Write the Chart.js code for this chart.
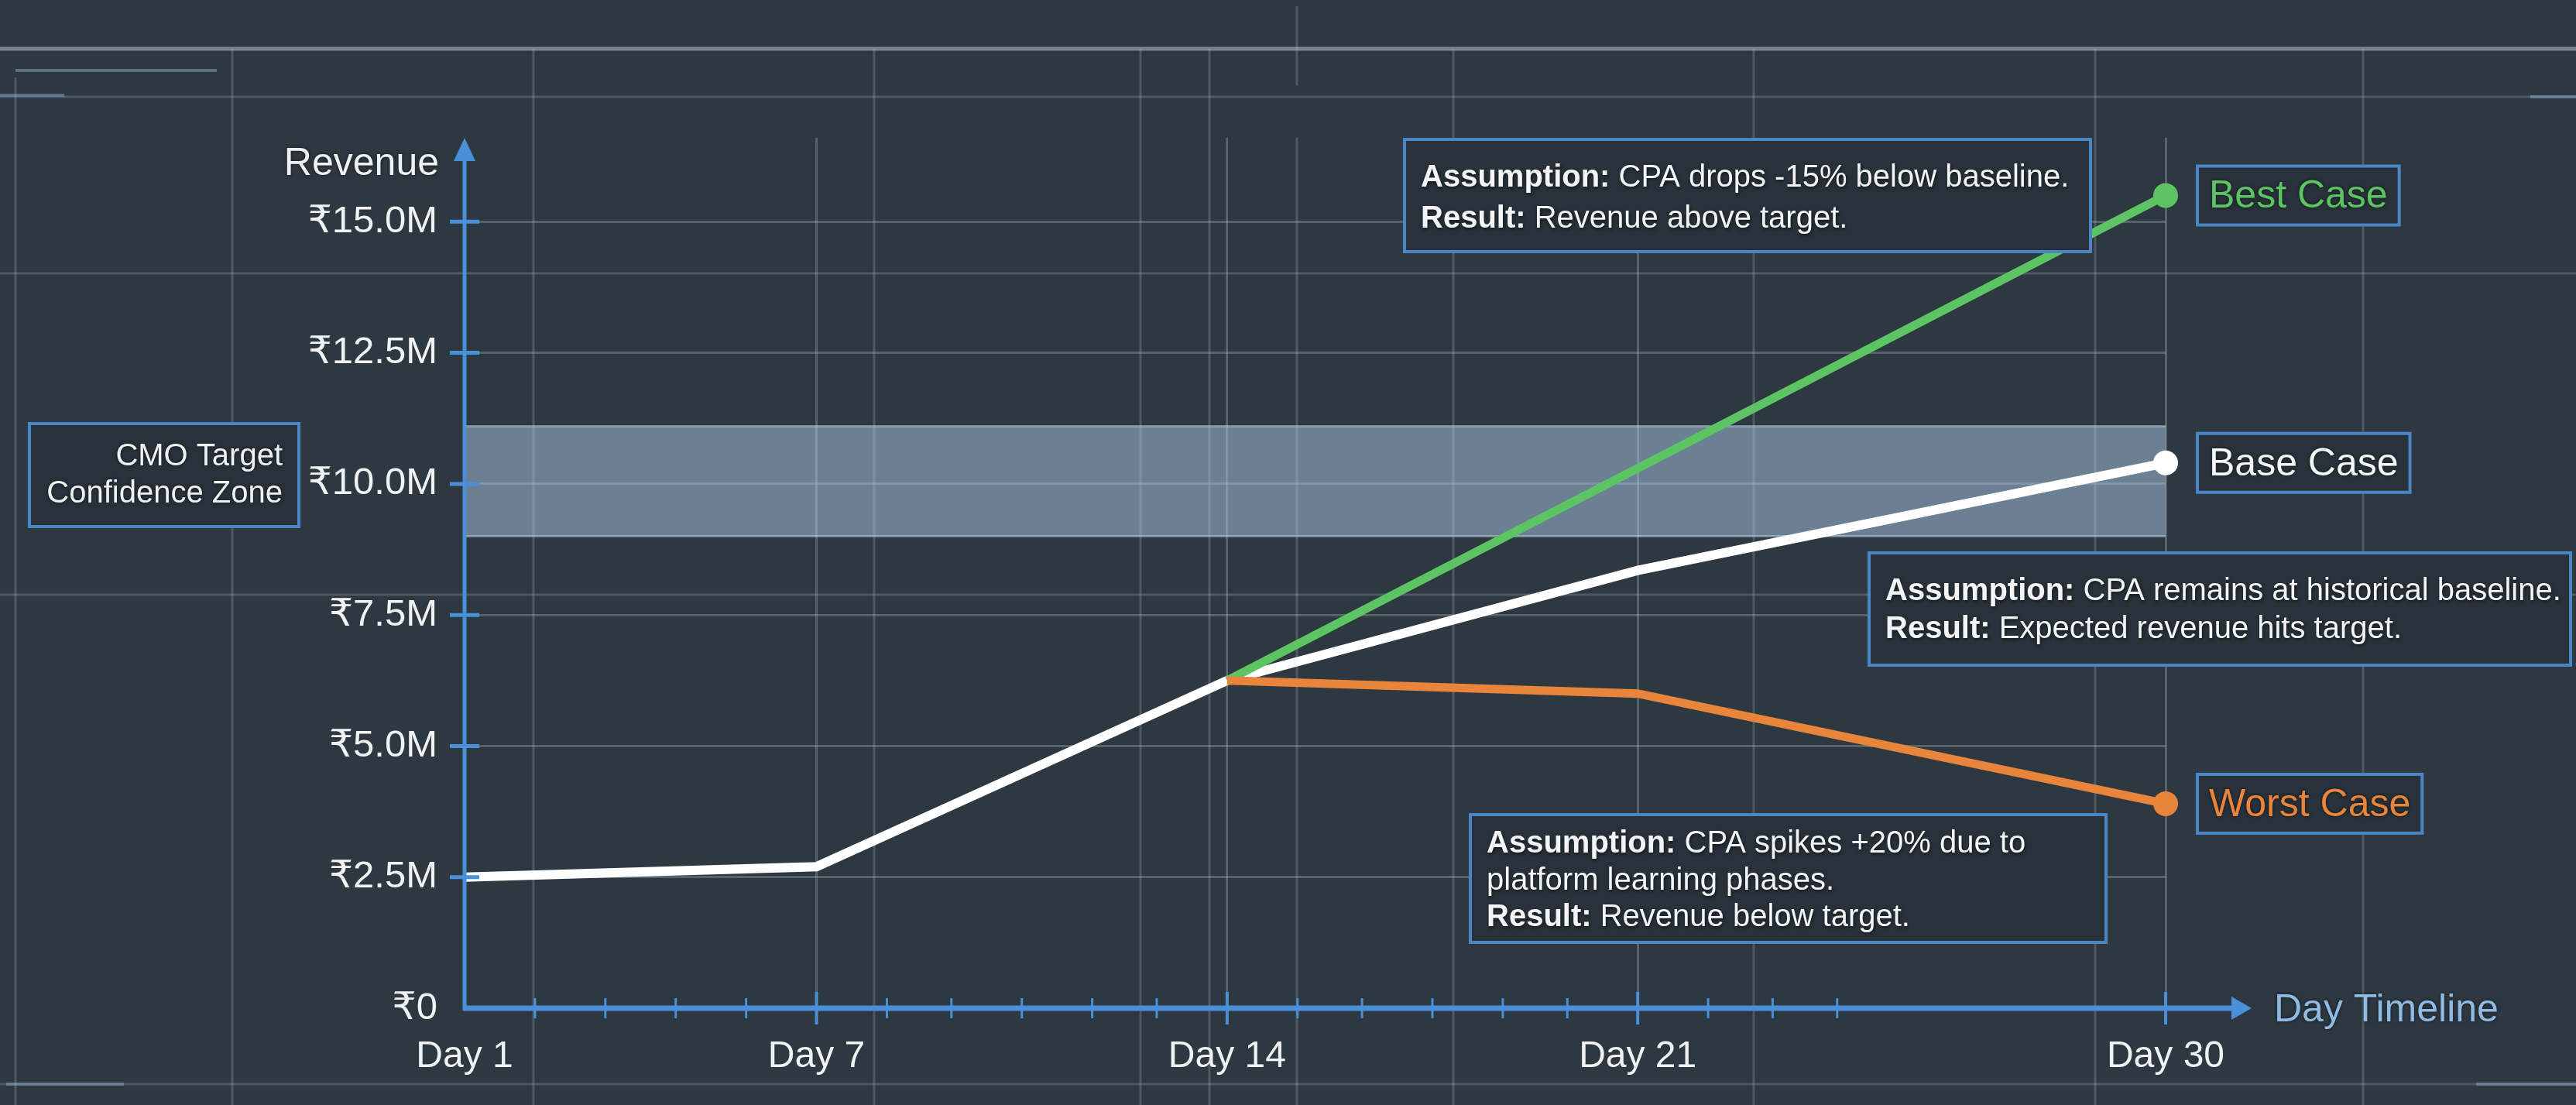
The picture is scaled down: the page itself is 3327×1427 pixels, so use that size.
<!DOCTYPE html>
<html>
<head>
<meta charset="utf-8">
<script src="https://cdn.jsdelivr.net/npm/chart.js@4.4.1/dist/chart.umd.min.js"></script>
<style>
  html, body { margin: 0; padding: 0; background: #2e3840; }
  #wrap { width: 3327px; height: 1427px; }
</style>
</head>
<body>
<div id="wrap"><canvas id="scenarioChart" width="3327" height="1427"></canvas></div>
<script>
// x axis: day timeline
const dayLabels = ['Day 1', 'Day 7', 'Day 14', 'Day 21', 'Day 30'];
const majorDays = [1, 7, 14, 21, 30];
const minorTickDays = [2.2, 3.4, 4.6, 5.8, 8.2, 9.3, 10.5, 11.7, 12.8, 15.2, 16.3, 17.5, 18.7, 19.8, 22.2, 23.3, 24.4];

// y axis: revenue in ₹M
const revenueTicks = [0, 2.5, 5, 7.5, 10, 12.5, 15];

// scenarios
const baseDays = [1, 7, 14, 21, 30];
const baseRevenue = [2.5, 2.7, 6.25, 8.35, 10.4];
const bestDays = [14, 30];
const bestRevenue = [6.25, 15.5];
const worstDays = [14, 21, 30];
const worstRevenue = [6.25, 6.0, 3.9];

// CMO target confidence zone (₹M)
const targetZoneLow = 9.0;
const targetZoneHigh = 11.1;

const FONT = "'Liberation Sans', Arial, 'DejaVu Sans', sans-serif";
const axisBlue = '#4a90d9';
const boxBlue = '#4a86c5';
const boxFill = '#29323a';
const gridColor = 'rgba(175,188,200,0.32)';
const green = '#5cc462';
const orange = '#e8843c';

Chart.defaults.font.family = FONT;

function toPoints(days, values) {
  return days.map((d, i) => ({ x: d, y: values[i] }));
}

function lastPointRadius(ctx) {
  return ctx.dataIndex === ctx.dataset.data.length - 1 ? 16 : 0;
}

// blueprint style background
const backdrop = {
  id: 'backdrop',
  beforeDraw(chart) {
    const ctx = chart.ctx;
    ctx.save();
    ctx.fillStyle = '#2e3840';
    ctx.fillRect(0, 0, chart.width, chart.height);

    const W = chart.width;
    const H = chart.height;
    const faint = [
      [0, 125, W, 125], [0, 353, W, 353], [0, 768, W, 768], [0, 1400, W, 1400],
      [20, 100, 20, H], [300, 63, 300, H], [689, 63, 689, H], [1129, 63, 1129, H],
      [1473, 63, 1473, H], [1562, 63, 1562, H], [1675, 8, 1675, 110], [1675, 178, 1675, H],
      [1877, 63, 1877, H], [2265, 63, 2265, H], [2706, 63, 2706, H], [3052, 63, 3052, H]
    ];
    ctx.strokeStyle = 'rgba(170,185,200,0.26)';
    ctx.lineWidth = 3;
    faint.forEach(([x1, y1, x2, y2]) => {
      ctx.beginPath(); ctx.moveTo(x1, y1); ctx.lineTo(x2, y2); ctx.stroke();
    });

    ctx.strokeStyle = 'rgba(195,205,215,0.5)';
    ctx.lineWidth = 5;
    ctx.beginPath(); ctx.moveTo(0, 63); ctx.lineTo(W, 63); ctx.stroke();

    // little highlight strokes
    ctx.strokeStyle = 'rgba(140,180,220,0.45)';
    ctx.lineWidth = 4;
    [[20, 91, 280, 91], [0, 123, 83, 123], [3268, 125, W, 125], [3198, 1400, W, 1400], [8, 1400, 160, 1400]]
      .forEach(([x1, y1, x2, y2]) => {
        ctx.beginPath(); ctx.moveTo(x1, y1); ctx.lineTo(x2, y2); ctx.stroke();
      });
    ctx.restore();
  }
};

// translucent target band
const targetZone = {
  id: 'targetZone',
  beforeDatasetsDraw(chart) {
    const { ctx, scales: { x, y } } = chart;
    const left = x.getPixelForValue(majorDays[0]);
    const right = x.getPixelForValue(majorDays[majorDays.length - 1]);
    const top = y.getPixelForValue(targetZoneHigh);
    const bottom = y.getPixelForValue(targetZoneLow);
    ctx.save();
    ctx.fillStyle = 'rgba(170,200,230,0.5)';
    ctx.fillRect(left, top, right - left, bottom - top);
    ctx.strokeStyle = 'rgba(200,220,240,0.45)';
    ctx.lineWidth = 3;
    ctx.beginPath();
    ctx.moveTo(left, top); ctx.lineTo(right, top);
    ctx.moveTo(left, bottom); ctx.lineTo(right, bottom);
    ctx.stroke();
    ctx.restore();
  }
};

// axes with arrows and crossing tick marks
const arrowAxes = {
  id: 'arrowAxes',
  afterDatasetsDraw(chart) {
    const { ctx, chartArea: a, scales: { x, y } } = chart;
    ctx.save();
    ctx.strokeStyle = axisBlue;
    ctx.fillStyle = axisBlue;
    ctx.lineCap = 'butt';

    ctx.lineWidth = 5;
    ctx.beginPath(); ctx.moveTo(a.left, a.bottom + 3); ctx.lineTo(a.left, a.top + 26); ctx.stroke();
    ctx.beginPath();
    ctx.moveTo(a.left, a.top);
    ctx.lineTo(a.left - 14, a.top + 30);
    ctx.lineTo(a.left + 14, a.top + 30);
    ctx.closePath(); ctx.fill();

    const xEnd = a.right + 85;
    ctx.lineWidth = 7;
    ctx.beginPath(); ctx.moveTo(a.left - 2, a.bottom); ctx.lineTo(xEnd + 2, a.bottom); ctx.stroke();
    ctx.beginPath();
    ctx.moveTo(xEnd + 26, a.bottom);
    ctx.lineTo(xEnd, a.bottom - 15);
    ctx.lineTo(xEnd, a.bottom + 15);
    ctx.closePath(); ctx.fill();

    ctx.lineWidth = 5;
    revenueTicks.forEach(v => {
      if (v === 0) return;
      const py = y.getPixelForValue(v);
      ctx.beginPath(); ctx.moveTo(a.left - 19, py); ctx.lineTo(a.left + 19, py); ctx.stroke();
    });

    ctx.lineWidth = 4;
    majorDays.slice(1).forEach(d => {
      const px = x.getPixelForValue(d);
      ctx.beginPath(); ctx.moveTo(px, a.bottom - 21); ctx.lineTo(px, a.bottom + 21); ctx.stroke();
    });
    ctx.lineWidth = 3;
    minorTickDays.forEach(d => {
      const px = x.getPixelForValue(d);
      ctx.beginPath(); ctx.moveTo(px, a.bottom - 13); ctx.lineTo(px, a.bottom + 13); ctx.stroke();
    });
    ctx.restore();
  }
};

function drawBox(ctx, left, top, w, h) {
  ctx.fillStyle = boxFill;
  ctx.fillRect(left, top, w, h);
  ctx.strokeStyle = boxBlue;
  ctx.lineWidth = 4;
  ctx.strokeRect(left, top, w, h);
}

function richLine(ctx, parts, x, y) {
  let cx = x;
  parts.forEach(([text, bold]) => {
    ctx.font = (bold ? 'bold ' : '') + '40px ' + FONT;
    ctx.fillText(text, cx, y);
    cx += ctx.measureText(text).width;
  });
}

const notes = [
  { left: 1814, top: 180, w: 886, h: 145, rows: [
    { y: 230, parts: [['Assumption:', true], [' CPA drops -15% below baseline.', false]] },
    { y: 283, parts: [['Result:', true], [' Revenue above target.', false]] }
  ] },
  { left: 2414, top: 714, w: 906, h: 145, rows: [
    { y: 764, parts: [['Assumption:', true], [' CPA remains at historical baseline.', false]] },
    { y: 813, parts: [['Result:', true], [' Expected revenue hits target.', false]] }
  ] },
  { left: 1899, top: 1052, w: 821, h: 165, rows: [
    { y: 1090, parts: [['Assumption:', true], [' CPA spikes +20% due to', false]] },
    { y: 1138, parts: [['platform learning phases.', false]] },
    { y: 1185, parts: [['Result:', true], [' Revenue below target.', false]] }
  ] }
];

const annotations = {
  id: 'annotations',
  afterDraw(chart) {
    const { ctx, chartArea: a, scales: { x, y } } = chart;
    ctx.save();
    ctx.textBaseline = 'middle';
    ctx.shadowColor = 'rgba(0,0,0,0.55)';

    // scenario notes
    notes.forEach(n => {
      ctx.shadowBlur = 0;
      drawBox(ctx, n.left, n.top, n.w, n.h);
      ctx.shadowBlur = 4; ctx.shadowOffsetX = 1; ctx.shadowOffsetY = 2;
      ctx.fillStyle = '#f2f4f6';
      ctx.textAlign = 'left';
      n.rows.forEach(r => richLine(ctx, r.parts, n.left + 21, r.y));
      ctx.shadowOffsetX = 0; ctx.shadowOffsetY = 0;
    });

    // end labels
    const ends = [
      ['Best Case', green, bestDays, bestRevenue],
      ['Base Case', '#f4f6f8', baseDays, baseRevenue],
      ['Worst Case', orange, worstDays, worstRevenue]
    ];
    ctx.font = '50px ' + FONT;
    ends.forEach(([label, color, days, vals]) => {
      const px = x.getPixelForValue(days[days.length - 1]);
      const py = y.getPixelForValue(vals[vals.length - 1]);
      const w = ctx.measureText(label).width + 30;
      ctx.shadowBlur = 0;
      drawBox(ctx, px + 41, py - 38, w, 76);
      ctx.shadowBlur = 4;
      ctx.fillStyle = color;
      ctx.textAlign = 'left';
      ctx.fillText(label, px + 56, py + 2);
    });

    // target zone label
    ctx.shadowBlur = 0;
    drawBox(ctx, 38, 547, 348, 133);
    ctx.shadowBlur = 4;
    ctx.fillStyle = '#eef0f2';
    ctx.font = '40px ' + FONT;
    ctx.textAlign = 'right';
    ctx.fillText('CMO Target', 365, 590);
    ctx.fillText('Confidence Zone', 365, 638);

    // axis titles
    ctx.font = '50px ' + FONT;
    ctx.fillStyle = '#eef0f2';
    ctx.textAlign = 'right';
    ctx.fillText('Revenue', a.left - 33, a.top + 34);
    ctx.fillStyle = '#8fbbe3';
    ctx.textAlign = 'left';
    ctx.fillText('Day Timeline', a.right + 140, a.bottom + 3);
    ctx.restore();
  }
};

new Chart(document.getElementById('scenarioChart').getContext('2d'), {
  type: 'line',
  data: {
    datasets: [
      {
        label: 'Worst Case',
        data: toPoints(worstDays, worstRevenue),
        borderColor: orange,
        backgroundColor: orange,
        borderWidth: 11,
        pointRadius: lastPointRadius,
        pointBorderWidth: 0,
        tension: 0,
        clip: false,
        order: 1
      },
      {
        label: 'Best Case',
        data: toPoints(bestDays, bestRevenue),
        borderColor: green,
        backgroundColor: green,
        borderWidth: 11,
        pointRadius: lastPointRadius,
        pointBorderWidth: 0,
        tension: 0,
        clip: false,
        order: 2
      },
      {
        label: 'Base Case',
        data: toPoints(baseDays, baseRevenue),
        borderColor: '#ffffff',
        backgroundColor: '#ffffff',
        borderWidth: 12,
        pointRadius: lastPointRadius,
        pointBorderWidth: 0,
        tension: 0,
        clip: false,
        order: 3
      }
    ]
  },
  options: {
    responsive: false,
    animation: false,
    layout: { padding: { left: 0, top: 178, right: 530, bottom: 0 } },
    plugins: {
      legend: { display: false },
      tooltip: { enabled: false }
    },
    scales: {
      x: {
        type: 'linear',
        min: 1,
        max: 30,
        afterBuildTicks: (scale) => {
          scale.ticks = majorDays.concat(minorTickDays).sort((p, q) => p - q).map(v => ({ value: v }));
        },
        afterFit: (scale) => { scale.height = 125; },
        border: { display: false },
        grid: {
          drawTicks: false,
          lineWidth: 3,
          color: (c) => (c.tick && majorDays.includes(c.tick.value) && c.tick.value !== 1) ? gridColor : 'transparent'
        },
        ticks: {
          autoSkip: false,
          maxRotation: 0,
          padding: 34,
          color: '#f0f2f4',
          font: { size: 48 },
          callback: (v) => majorDays.includes(v) ? dayLabels[majorDays.indexOf(v)] : ''
        }
      },
      y: {
        min: 0,
        max: 16.6,
        afterBuildTicks: (scale) => {
          scale.ticks = revenueTicks.map(v => ({ value: v }));
        },
        afterFit: (scale) => { scale.width = 600; },
        border: { display: false },
        grid: {
          drawTicks: false,
          lineWidth: 3,
          color: (c) => (c.tick && c.tick.value !== 0) ? gridColor : 'transparent'
        },
        ticks: {
          padding: 35,
          color: '#f0f2f4',
          font: { size: 49 },
          callback: (v) => v === 0 ? '₹0' : '₹' + v.toFixed(1) + 'M'
        }
      }
    }
  },
  plugins: [backdrop, targetZone, arrowAxes, annotations]
});
</script>
</body>
</html>
